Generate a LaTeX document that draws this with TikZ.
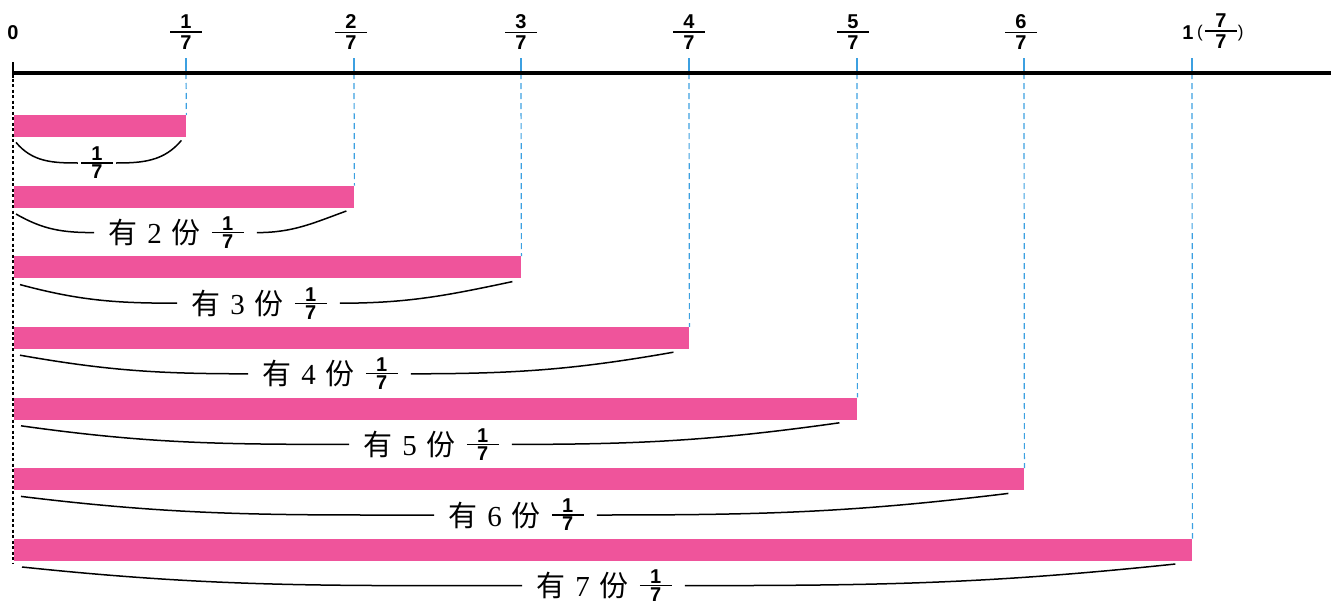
\documentclass[tikz,border=0pt]{standalone}
\usepackage{fontspec}
\setmainfont{Liberation Serif}
\newfontfamily\cjkfont{Noto Sans CJK SC}
\newfontfamily\fdfam{Liberation Sans}
\definecolor{barpink}{RGB}{239,84,155}
\definecolor{tickblue}{RGB}{60,160,225}
\newcommand{\fdsize}{\fdfam\bfseries\fontsize{20}{20}\selectfont}
\newcommand{\fr}[3][3pt]{\setbox0\vbox{\offinterlineskip\hbox to 32pt{\hfil\fdsize #2\hfil}\kern#1\hrule height 1.2pt\kern#1\hbox to 32pt{\hfil\fdsize #3\hfil}}\raise\dimexpr11pt-0.5\ht0\relax\box0}
\newcommand{\lab}[1]{{\cjkfont\fontsize{29}{29}\selectfont 有}\hspace{10pt}{\fontsize{29}{29}\selectfont #1}\hspace{10pt}{\cjkfont\fontsize{29}{29}\selectfont 份}\hspace{11pt}\fr[1.5pt]{1}{7}}
\begin{document}
\begin{tikzpicture}[x=1pt,y=-1pt,
  bar/.style={fill=barpink, draw=none, inner sep=0, minimum height=22pt, anchor=north west},
  ax/.style={line width=3.4pt, line cap=butt},
  bluetick/.style={tickblue, line width=1.5pt},
  bluedash/.style={tickblue, line width=1.2pt, dash pattern=on 6pt off 4pt},
  zerodash/.style={black, line width=1.3pt, dash pattern=on 3pt off 2.5pt},
  brace/.style={line width=1.5pt, black},
  axlab/.style={inner sep=0, font=\fdsize},
  frlab/.style={inner sep=0},
  lab/.style={inner sep=0, anchor=base}]
\useasboundingbox (0,0) rectangle (1331,608);
\fill[white] (0,0) rectangle (1331,608);
% axis
\coordinate (o) at (13,73);
\coordinate (e) at (1331,73);
\coordinate (z0) at (13,62);
\coordinate (zb) at (13,563);
\draw[zerodash] (o) -- (zb);
% ticks
\coordinate (t1) at (186,73);  \coordinate (u1) at (186,58);
\coordinate (t2) at (354,73);  \coordinate (u2) at (354,58);
\coordinate (t3) at (521,73);  \coordinate (u3) at (521,58);
\coordinate (t4) at (689,73);  \coordinate (u4) at (689,58);
\coordinate (t5) at (857,73);  \coordinate (u5) at (857,58);
\coordinate (t6) at (1024,73); \coordinate (u6) at (1024,58);
\coordinate (t7) at (1192,73); \coordinate (u7) at (1192,58);
% bars
\node[bar, minimum width=172pt]  (b1) at (14,115) {};
\node[bar, minimum width=340pt]  (b2) at (14,185.6) {};
\node[bar, minimum width=507pt]  (b3) at (14,256.2) {};
\node[bar, minimum width=675pt]  (b4) at (14,326.8) {};
\node[bar, minimum width=843pt]  (b5) at (14,397.4) {};
\node[bar, minimum width=1010pt] (b6) at (14,468) {};
\node[bar, minimum width=1178pt] (b7) at (14,538.6) {};
% blue guides
\foreach \k in {1,...,7}{
  \draw[bluetick] (u\k) -- (t\k);
  \draw[bluedash] (t\k) -- (b\k.north east);
}
\draw[ax] (o) -- (e);
\draw[line width=2pt] (z0) -- (13,78);
% axis labels
\node[axlab] (n0) at (13,33) {0};
\node[frlab] (f1) at (186,32) {\fr{1}{7}};
\node[frlab] (f2) at (351,32) {\fr{2}{7}};
\node[frlab] (f3) at (521,32) {\fr{3}{7}};
\node[frlab] (f4) at (689,32) {\fr{4}{7}};
\node[frlab] (f5) at (853,32) {\fr{5}{7}};
\node[frlab] (f6) at (1021,32) {\fr{6}{7}};
\node[axlab] (one) at (1188,33) {1};
\node[frlab, anchor=west] (f7) at (1197,31) {\raise5pt\hbox{\fdfam\fontsize{17}{17}\selectfont(}\hspace{2pt}\fr{7}{7}\hspace{1pt}\raise5pt\hbox{\fdfam\fontsize{17}{17}\selectfont)}};
% brace labels
\node[lab] (l1) at (97,174) {\fr[1.5pt]{1}{7}};
\node[lab] (l2) at (176,243.6) {\lab{2}};
\node[lab] (l3) at (259,314.2) {\lab{3}};
\node[lab] (l4) at (330,384.8) {\lab{4}};
\node[lab] (l5) at (431,455.4) {\lab{5}};
\node[lab] (l6) at (516,526) {\lab{6}};
\node[lab] (l7) at (604,596.6) {\lab{7}};
% braces
\draw[brace] ([shift={(2pt,-5pt)}]b1.south west) to[out=-50,in=180] ([shift={(-3pt,11pt)}]l1.base west);
\draw[brace] ([shift={(3pt,11pt)}]l1.base east) to[out=0,in=-130] ([shift={(-5pt,-3pt)}]b1.south east);
\draw[brace] ([shift={(2pt,-6pt)}]b2.south west) to[out=-30,in=180] ([shift={(-14pt,11pt)}]l2.base west);
\draw[brace] ([shift={(13pt,11pt)}]l2.base east) to[out=0,in=200] ([shift={(-8pt,-3pt)}]b2.south east);
\draw[brace] ([shift={(6pt,-6pt)}]b3.south west) to[out=-15,in=180] ([shift={(-14pt,11pt)}]l3.base west);
\draw[brace] ([shift={(13pt,11pt)}]l3.base east) to[out=0,in=192] ([shift={(-9pt,-3pt)}]b3.south east);
\draw[brace] ([shift={(6pt,-6pt)}]b4.south west) to[out=-10,in=180] ([shift={(-14pt,11pt)}]l4.base west);
\draw[brace] ([shift={(13pt,11pt)}]l4.base east) to[out=0,in=190] ([shift={(-16pt,-3pt)}]b4.south east);
\draw[brace] ([shift={(7pt,-6pt)}]b5.south west) to[out=-8,in=180] ([shift={(-14pt,11pt)}]l5.base west);
\draw[brace] ([shift={(13pt,11pt)}]l5.base east) to[out=0,in=188] ([shift={(-18pt,-3pt)}]b5.south east);
\draw[brace] ([shift={(7pt,-6pt)}]b6.south west) to[out=-7,in=180] ([shift={(-14pt,11pt)}]l6.base west);
\draw[brace] ([shift={(13pt,11pt)}]l6.base east) to[out=0,in=187] ([shift={(-16pt,-3pt)}]b6.south east);
\draw[brace] ([shift={(8pt,-6pt)}]b7.south west) to[out=-6,in=180] ([shift={(-14pt,11pt)}]l7.base west);
\draw[brace] ([shift={(13pt,11pt)}]l7.base east) to[out=0,in=186] ([shift={(-17pt,-3pt)}]b7.south east);
\end{tikzpicture}
\end{document}
